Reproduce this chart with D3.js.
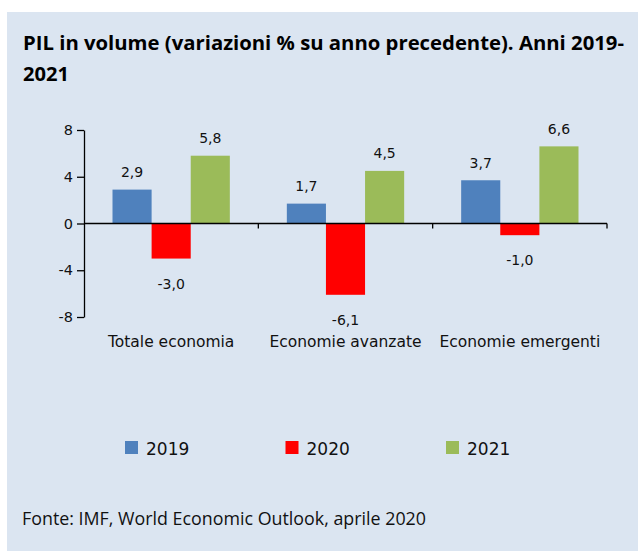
<!DOCTYPE html>
<html>
<head>
<meta charset="utf-8">
<script src="https://cdn.jsdelivr.net/npm/d3@7"></script>
<style>
    html, body { margin: 0; padding: 0; background: #fff; }
    svg { display: block; }
</style>
</head>
<body>
<svg id="chart" width="638" height="551"></svg>
<script>
    // data
    var categories = ["Totale economia", "Economie avanzate", "Economie emergenti"];
    var years = ["2019", "2020", "2021"];
    var values2019 = [2.9, 1.7, 3.7];
    var values2020 = [-3.0, -6.1, -1.0];
    var values2021 = [5.8, 4.5, 6.6];
    var yTicks = [-8, -4, 0, 4, 8];
    var colors = ["#4f81bd", "#ff0000", "#9bbb59"];

    var series = [values2019, values2020, values2021];

    var svg = d3.select("#chart");

    svg.append("rect")
        .attr("x", 7).attr("y", 12)
        .attr("width", 631).attr("height", 539)
        .attr("fill", "#dbe5f1");

    // title
    var title = svg.append("text")
        .attr("font-family", "'Open Sans', sans-serif")
        .attr("font-weight", "bold")
        .attr("font-size", 19)
        .attr("fill", "#000");
    title.append("tspan").attr("x", 23).attr("y", 50)
        .attr("textLength", 601).attr("lengthAdjust", "spacingAndGlyphs")
        .text("PIL in volume (variazioni % su anno precedente). Anni 2019-");
    title.append("tspan").attr("x", 23).attr("y", 81)
        .attr("textLength", 46).attr("lengthAdjust", "spacingAndGlyphs")
        .text("2021");

    var x = d3.scaleBand()
        .domain(categories)
        .range([84, 607]);

    var xInner = d3.scaleBand()
        .domain(years)
        .range([28.5, x.bandwidth() - 28.5]);

    var y = d3.scaleLinear()
        .domain([-8, 8])
        .range([317, 130]);

    var locale = d3.formatLocale({decimal: ",", thousands: ".", grouping: [3], currency: ["", "€"], minus: "-"});
    var fmt = locale.format(".1f");

    // y axis
    var yAxis = svg.append("g")
        .attr("transform", "translate(84,0)")
        .call(d3.axisLeft(y).tickValues(yTicks).tickFormat(locale.format("d"))
            .tickSize(7).tickSizeOuter(0).tickPadding(4));
    yAxis.selectAll("text")
        .attr("font-family", "'DejaVu Sans', sans-serif")
        .attr("font-size", 14.5)
        .attr("fill", "#111");
    yAxis.selectAll("line, path").attr("stroke", "#000").attr("stroke-width", 1.3);

    // bars
    var rows = categories.map(function(c, i) {
        return years.map(function(yr, j) {
            return {cat: c, year: yr, value: series[j][i], color: colors[j]};
        });
    });

    var groups = svg.selectAll(".grp")
        .data(rows)
        .enter().append("g")
        .attr("class", "grp")
        .attr("transform", function(d, i) { return "translate(" + x(categories[i]) + ",0)"; });

    groups.selectAll("rect")
        .data(function(d) { return d; })
        .enter().append("rect")
        .attr("x", function(d) { return xInner(d.year); })
        .attr("width", xInner.bandwidth())
        .attr("y", function(d) { return y(Math.max(0, d.value)); })
        .attr("height", function(d) { return Math.abs(y(d.value) - y(0)); })
        .attr("fill", function(d) { return d.color; });

    groups.selectAll("text.val")
        .data(function(d) { return d; })
        .enter().append("text")
        .attr("class", "val")
        .attr("x", function(d) { return xInner(d.year) + xInner.bandwidth() / 2; })
        .attr("y", function(d) { return d.value >= 0 ? y(d.value) - 12.5 : y(d.value) + 30; })
        .attr("text-anchor", "middle")
        .attr("font-family", "'DejaVu Sans', sans-serif")
        .attr("font-size", 14)
        .attr("fill", "#111")
        .text(function(d) { return fmt(d.value); });

    // x axis at zero
    svg.append("line")
        .attr("x1", 84).attr("x2", 607)
        .attr("y1", y(0)).attr("y2", y(0))
        .attr("stroke", "#000").attr("stroke-width", 1.3);

    svg.selectAll(".xtick")
        .data(categories)
        .enter().append("line")
        .attr("class", "xtick")
        .attr("x1", function(d) { return x(d) + x.bandwidth(); })
        .attr("x2", function(d) { return x(d) + x.bandwidth(); })
        .attr("y1", y(0)).attr("y2", y(0) + 5)
        .attr("stroke", "#000").attr("stroke-width", 1.3);

    svg.selectAll(".xlab")
        .data(categories)
        .enter().append("text")
        .attr("class", "xlab")
        .attr("x", function(d) { return x(d) + x.bandwidth() / 2; })
        .attr("y", 347)
        .attr("text-anchor", "middle")
        .attr("font-family", "'DejaVu Sans', sans-serif")
        .attr("font-size", 15.5)
        .attr("fill", "#111")
        .text(function(d) { return d; });

    // legend
    var legend = svg.selectAll(".leg")
        .data(years)
        .enter().append("g")
        .attr("class", "leg")
        .attr("transform", function(d, i) { return "translate(" + (125 + i * 160.5) + ",441)"; });
    legend.append("rect")
        .attr("width", 13).attr("height", 13)
        .attr("fill", function(d, i) { return colors[i]; });
    legend.append("text")
        .attr("x", 21).attr("y", 14)
        .attr("font-family", "'DejaVu Sans', sans-serif")
        .attr("font-size", 17)
        .attr("fill", "#111")
        .text(function(d) { return d; });

    // source
    svg.append("text")
        .attr("x", 22).attr("y", 525)
        .attr("font-family", "'Open Sans', sans-serif")
        .attr("font-size", 19)
        .attr("textLength", 404).attr("lengthAdjust", "spacingAndGlyphs")
        .attr("fill", "#111")
        .text("Fonte: IMF, World Economic Outlook, aprile 2020");
</script>
</body>
</html>
